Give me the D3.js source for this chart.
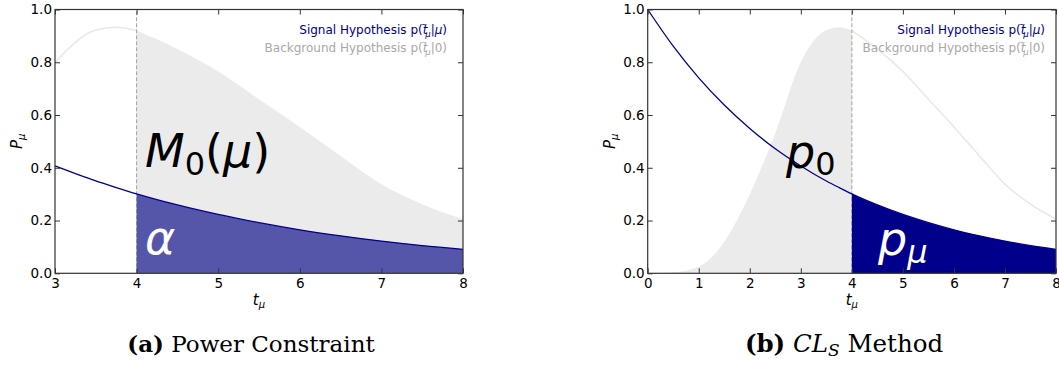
<!DOCTYPE html>
<html>
<head>
<meta charset="utf-8">
<script src="https://cdn.jsdelivr.net/npm/d3@7"></script>
<style>
  body { margin: 0; background: #fff; }
  svg text { font-family: "DejaVu Sans", sans-serif; }
  .caption { font-family: "DejaVu Serif", "Liberation Serif", serif; }
</style>
</head>
<body>
<svg id="chart" width="1059" height="370"></svg>
<script>
// sample points along t_mu
const tValues = [0, 0.5, 1, 1.5, 2, 2.5, 3, 3.5, 3.75, 4, 4.5, 5, 5.5, 6, 6.5, 7, 7.5, 8];
const signalP = [1.0, 0.861, 0.741, 0.638, 0.549, 0.472, 0.407, 0.350, 0.325, 0.301, 0.259, 0.223, 0.192, 0.165, 0.142, 0.122, 0.105, 0.091];
const backgroundP = [0.0, 0.004, 0.025, 0.12, 0.30, 0.53, 0.80, 0.922, 0.933, 0.92, 0.85, 0.765, 0.66, 0.555, 0.445, 0.338, 0.262, 0.205];

const yTicks = [0, 0.2, 0.4, 0.6, 0.8, 1.0];
const xTicksA = [3, 4, 5, 6, 7, 8];
const xTicksB = [0, 1, 2, 3, 4, 5, 6, 7, 8];
const tCut = 4;

const points = tValues.map((t, i) => ({t: t, s: signalP[i], b: backgroundP[i]}));

const svg = d3.select('#chart');

/**
 * Draw one panel
 */
function drawPanel(p) {
    const x = d3.scaleLinear().domain(p.xDomain).range([p.left, p.right]);
    const y = d3.scaleLinear().domain([0, 1]).range([p.bottom, p.top]);
    const g = svg.append('g');

    const inRange = (lo, hi) => points.filter(d => d.t >= lo && d.t <= hi);
    const area = key => d3.area().x(d => x(d.t)).y0(y(0)).y1(d => y(d[key])).curve(d3.curveMonotoneX);
    const line = key => d3.line().x(d => x(d.t)).y(d => y(d[key])).curve(d3.curveMonotoneX);

    // background hypothesis
    g.append('path')
        .datum(inRange(p.bgFill[0], p.bgFill[1]))
        .attr('d', area('b'))
        .style('fill', '#ebebeb')
    g.append('path')
        .datum(inRange(p.bgLine[0], p.bgLine[1]))
        .attr('d', line('b'))
        .style('fill', 'none')
        .style('stroke', '#e8e8e8')
        .style('stroke-width', 1.5)

    // cut
    g.append('line')
        .attr('x1', x(tCut)).attr('x2', x(tCut))
        .attr('y1', y(0)).attr('y2', y(1))
        .style('stroke', '#a0a0a0')
        .style('stroke-width', 1)
        .style('stroke-dasharray', '4,2')

    // signal tail
    g.append('path')
        .datum(inRange(tCut, p.xDomain[1]))
        .attr('d', area('s'))
        .style('fill', p.sigFill)
    g.append('path')
        .datum(inRange(p.xDomain[0], p.xDomain[1]))
        .attr('d', line('s'))
        .style('fill', 'none')
        .style('stroke', '#00008b')
        .style('stroke-width', 1.3)

    // big labels
    p.labels.forEach(l => {
        const t = g.append('text')
            .attr('x', l.x).attr('y', l.y)
            .style('fill', l.color)
            .style('font-size', '46px')
        l.parts.forEach(part => {
            t.append('tspan')
                .text(part.text)
                .attr('dy', part.dy || 0)
                .style('font-style', part.italic ? 'italic' : 'normal')
                .style('font-size', part.size ? part.size + 'px' : null)
        })
    })

    // legend
    const legend = [
        {color: '#00008b', label: 'Signal Hypothesis p(', cond: 'μ'},
        {color: '#a8a8a8', label: 'Background Hypothesis p(', cond: '0'}
    ];
    legend.forEach((d, i) => {
        const t = g.append('text')
            .attr('x', p.right - p.legendInset)
            .attr('y', p.top + 24 + i * 18)
            .attr('text-anchor', 'end')
            .style('fill', d.color)
            .style('font-size', '12px')
        t.append('tspan').text(d.label)
        t.append('tspan').text('t').style('font-style', 'italic')
        t.append('tspan').text('~').attr('dx', -6.5).attr('dy', -6.5).style('font-size', '7.5px')
        t.append('tspan').text('μ').attr('dx', -2).attr('dy', 9.5).style('font-size', '8.5px').style('font-style', 'italic')
        t.append('tspan').text('|').attr('dy', -3)
        t.append('tspan').text(d.cond).style('font-style', d.cond === 'μ' ? 'italic' : 'normal')
        t.append('tspan').text(')')
    })

    // axes
    const styleAxis = sel => {
        sel.select('.domain').remove();
        sel.selectAll('line').style('stroke', '#333').style('stroke-width', 1);
        sel.selectAll('text')
            .style('font-family', '"DejaVu Sans", sans-serif')
            .style('font-size', '13.5px')
            .style('fill', '#000');
    };
    g.append('g').attr('transform', `translate(0,${p.bottom})`)
        .call(d3.axisBottom(x).tickValues(p.xTicks).tickFormat(d3.format('d')).tickSize(-5).tickPadding(5))
        .call(styleAxis)
    g.append('g').attr('transform', `translate(0,${p.top})`)
        .call(d3.axisTop(x).tickValues(p.xTicks).tickFormat('').tickSize(-5))
        .call(styleAxis)
    g.append('g').attr('transform', `translate(${p.left},0)`)
        .call(d3.axisLeft(y).tickValues(yTicks).tickFormat(d3.format('.1f')).tickSize(-5).tickPadding(3))
        .call(styleAxis)
    g.append('g').attr('transform', `translate(${p.right},0)`)
        .call(d3.axisRight(y).tickValues(yTicks).tickFormat('').tickSize(-5))
        .call(styleAxis)

    g.append('rect')
        .attr('x', p.left).attr('y', p.top)
        .attr('width', p.right - p.left).attr('height', p.bottom - p.top)
        .style('fill', 'none')
        .style('stroke', '#333')
        .style('stroke-width', 1.2)

    // axis titles
    const xl = g.append('text')
        .attr('x', (p.left + p.right) / 2)
        .attr('y', p.bottom + 32)
        .attr('text-anchor', 'middle')
        .style('font-size', '15px')
    xl.append('tspan').text('t').style('font-style', 'italic')
    xl.append('tspan').text('μ').attr('dy', 3).style('font-size', '10px').style('font-style', 'italic')

    const yl = g.append('text')
        .attr('transform', `translate(${p.left - 33},${(p.top + p.bottom) / 2}) rotate(-90)`)
        .attr('text-anchor', 'middle')
        .style('font-size', '15px')
    yl.append('tspan').text('P').style('font-style', 'italic')
    yl.append('tspan').text('μ').attr('dy', 3).style('font-size', '10px').style('font-style', 'italic')

    // caption
    const cap = svg.append('text')
        .attr('class', 'caption')
        .attr('x', p.captionCenter)
        .attr('y', 352)
        .attr('text-anchor', 'middle')
        .style('font-size', p.captionSize + 'px')
    p.caption.forEach(part => {
        cap.append('tspan')
            .text(part.text)
            .attr('dy', part.dy || 0)
            .style('font-weight', part.bold ? 'bold' : 'normal')
            .style('font-style', part.italic ? 'italic' : 'normal')
            .style('font-size', part.size ? part.size + 'px' : null)
    })
}

drawPanel({
    left: 55, right: 463, top: 9.5, bottom: 273.3,
    xDomain: [3, 8], xTicks: xTicksA,
    bgFill: [tCut, 8], bgLine: [3, tCut],
    sigFill: '#5555aa',
    legendInset: 16,
    labels: [
        {x: 145, y: 167, color: '#000', parts: [
            {text: 'M', italic: true},
            {text: '0', size: 32, dy: 8},
            {text: '(', size: 46, dy: -8},
            {text: 'μ', italic: true},
            {text: ')'}
        ]},
        {x: 145, y: 254, color: '#fff', parts: [{text: 'α', italic: true}]}
    ],
    captionCenter: 251, captionSize: 23,
    caption: [
        {text: '(a)', bold: true},
        {text: ' Power Constraint'}
    ]
});

drawPanel({
    left: 647.7, right: 1056, top: 9.5, bottom: 273.3,
    xDomain: [0, 8], xTicks: xTicksB,
    bgFill: [0, tCut], bgLine: [tCut, 8],
    sigFill: '#00008b',
    legendInset: 11,
    labels: [
        {x: 786, y: 168, color: '#000', parts: [
            {text: 'p', italic: true},
            {text: '0', size: 32, dy: 7}
        ]},
        {x: 878, y: 255, color: '#fff', parts: [
            {text: 'p', italic: true},
            {text: 'μ', italic: true, size: 32, dy: 8}
        ]}
    ],
    captionCenter: 844, captionSize: 24.5,
    caption: [
        {text: '(b)', bold: true},
        {text: ' '},
        {text: 'CL', italic: true},
        {text: 'S', italic: true, size: 17, dy: 4},
        {text: ' Method', dy: -4}
    ]
});
</script>
</body>
</html>
